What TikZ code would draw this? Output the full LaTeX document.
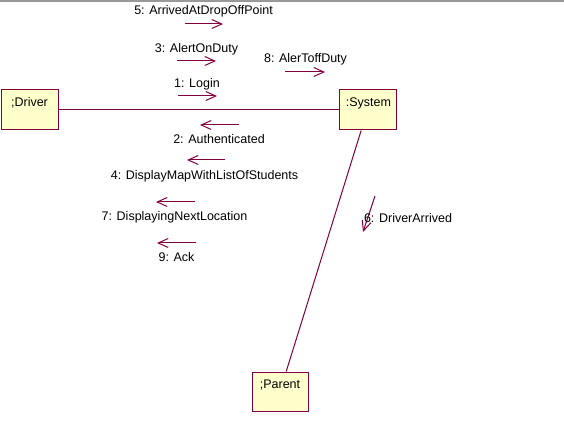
\documentclass[tikz,border=0pt]{standalone}
\usepackage{fontspec}
\setmainfont{Liberation Sans}
\usetikzlibrary{arrows.meta}
\definecolor{umlred}{RGB}{128,0,64}
\definecolor{umlfill}{RGB}{255,255,204}

\begin{document}
\begin{tikzpicture}[x=1pt,y=-1pt,
txt/.style={font=\fontsize{12.5}{14}\selectfont, inner sep=0pt, anchor=base},
objbox/.style={draw=umlred, fill=umlfill, line width=1pt, inner sep=0pt},
link/.style={draw=umlred, line width=1pt},
msg/.style={draw=umlred, line width=1pt, -{Straight Barb[length=10pt,width=9pt]}}]
\useasboundingbox (0,0) rectangle (564,443);
\draw[gray!80, line width=2pt] (0,1) -- (564,1);
% objects
\node[objbox, minimum width=57pt, minimum height=40pt] (driver) at (29.5,110) {};
\node[objbox, minimum width=57pt, minimum height=40pt] (system) at (367.5,110) {};
\node[objbox, minimum width=56pt, minimum height=39pt] (parent) at (280,391.5) {};
\node[txt] (driverlbl) at (29.5,107) {;Driver};
\node[txt] (systemlbl) at (368.5,107) {:System};
\node[txt] (parentlbl) at (280,388) {;Parent};
% links
\draw[link] (driver) -- (system);
\draw[link] (system) -- (parent);
% messages
\foreach \n/\xa/\xb/\y in {m5/185/223/24, m3/177/216/61, m1/178/217/96, m8/285/325/72,
  m2/239/200/125, m4/225/187/160, m7/195/156/202, m9/196/157/243} {
  \coordinate (\n-a) at (\xa,\y);
  \coordinate (\n-b) at (\xb,\y);
  \draw[msg] (\n-a) -- (\n-b);
}
\coordinate (m6-a) at (375,196);
\coordinate (m6-b) at (363,232);
\draw[msg] (m6-a) -- (m6-b);
\node[txt] (m5lbl) at (203.5,15) {5: ArrivedAtDropOffPoint};
\node[txt] (m3lbl) at (196.5,53) {3: AlertOnDuty};
\node[txt] (m1lbl) at (197,88) {1: Login};
\node[txt] (m8lbl) at (305.5,63) {8: AlerToffDuty};
\node[txt] (m2lbl) at (219,144) {2: Authenticated};
\node[txt] (m4lbl) at (204.5,180) {4: DisplayMapWithListOfStudents};
\node[txt] (m7lbl) at (174.5,221) {7: DisplayingNextLocation};
\node[txt] (m9lbl) at (176.5,261.5) {9: Ack};
\node[txt] (m6lbl) at (408,222.5) {6: DriverArrived};
\end{tikzpicture}
\end{document}
